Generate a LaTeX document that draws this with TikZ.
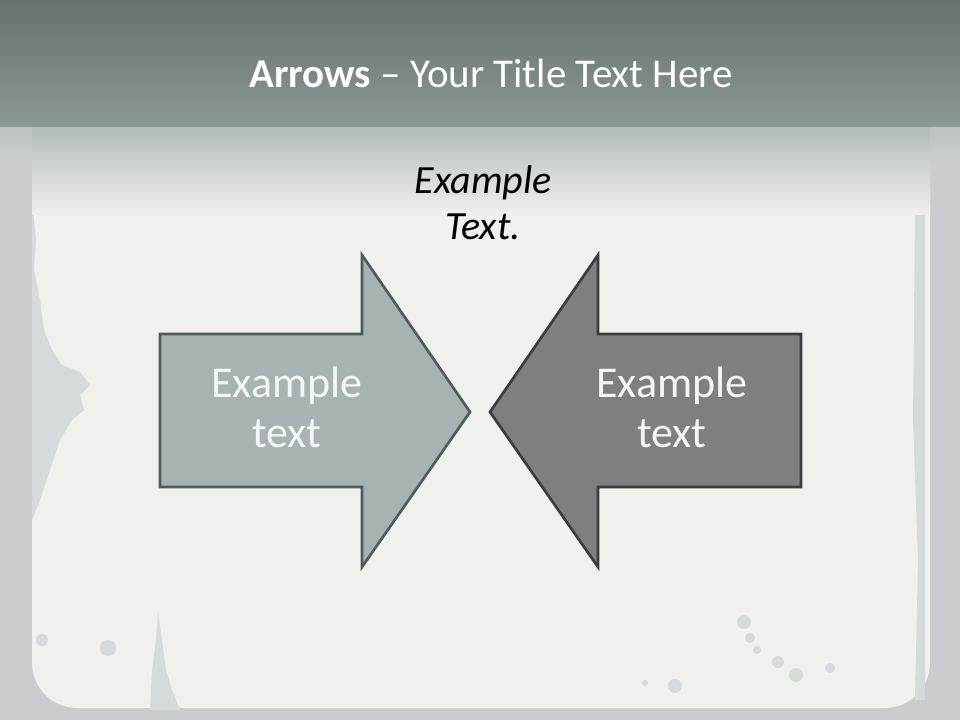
\documentclass[tikz,border=0pt]{standalone}
\usepackage{fontspec}
\setmainfont{Carlito}
\begin{document}
\begin{tikzpicture}[x=0.75pt,y=-0.75pt,
  arrowR/.style={fill=arrowlight,draw=outlineR,line width=2pt,line join=miter},
  arrowL/.style={fill=arrowdark,draw=outlineL,line width=2pt,line join=miter},
  armtext/.style={text=textwhite,align=center,inner sep=0pt,font=\fontsize{33}{37.5}\selectfont},
  blob/.style={fill=grunge,draw=none}]
\definecolor{arrowlight}{HTML}{A7B3B2}
\definecolor{arrowdark}{HTML}{7F7F7F}
\definecolor{outlineR}{HTML}{505B5A}
\definecolor{outlineL}{HTML}{3C3C3C}
\definecolor{textwhite}{HTML}{F4F6F4}
\definecolor{frame}{HTML}{C9CDCD}
\definecolor{paper}{HTML}{EFF1ED}
\definecolor{grunge}{HTML}{D5DADA}
\definecolor{bandtop}{HTML}{66706F}
\definecolor{bandbot}{HTML}{8B9998}
\definecolor{fadetop}{HTML}{B3BCBB}
\useasboundingbox (0,0) rectangle (960,720);
% frame and paper
\fill[frame] (0,0) rectangle (960,720);
\fill[paper] (32,100) [rounded corners=34] -- (32,708) -- (930,708) [sharp corners]-- (930,100) -- cycle;
% grunge on left side
\fill[grunge] (32,200) -- (36,240) -- (34,270) -- (40,300) -- (44,330) -- (52,350) -- (62,365) -- (80,372) -- (90,385) -- (80,395) -- (84,410) -- (72,420) -- (60,440) -- (50,470) -- (40,500) -- (32,520) -- cycle;
\fill[grunge] (150,710) -- (152,670) -- (156,640) -- (158,612) -- (162,640) -- (166,670) -- (172,690) -- (180,710) -- cycle;
\fill[grunge] (915,215) -- (925,215) -- (925,700) -- (915,700) -- (918,560) -- (913,420) -- cycle;
\fill[blob] (108,648) circle (8);
\fill[blob] (42,640) circle (6);
\fill[blob] (744,622) circle (7);
\fill[blob] (750,638) circle (5);
\fill[blob] (757,650) circle (4);
\fill[blob] (778,662) circle (6);
\fill[blob] (675,686) circle (7);
\fill[blob] (796,675) circle (7);
\fill[blob] (830,668) circle (5);
\fill[blob] (645,683) circle (3);
% title band and fade
\shade[top color=bandtop,bottom color=bandbot] (0,0) rectangle (960,128);
\shade[top color=fadetop,bottom color=paper] (32,128) rectangle (930,215);
\shade[top color=frame!80!bandbot,bottom color=frame] (0,128) rectangle (32,160);
\shade[top color=frame!80!bandbot,bottom color=frame] (930,128) rectangle (960,160);
% title
\node[anchor=base,text=white,inner sep=0pt,font=\fontsize{30.7}{36}\selectfont] (title) at (491,88)
  {\textbf{Arrows} – Your Title Text Here};
% top text
\node[anchor=base,align=center,inner sep=0pt,font=\fontsize{30}{35}\selectfont\itshape] (top) at (483,240)
  {Example\\Text.};
% arrows
\draw[arrowR] (160,334) -- (362,334) -- (362,255) -- (470,412) -- (362,567) -- (362,487) -- (160,487) -- cycle;
\draw[arrowL] (801,334) -- (598,334) -- (598,255) -- (490,412) -- (598,567) -- (598,487) -- (801,487) -- cycle;
\node[armtext,anchor=base] (rtext) at (287,447) {Example\\text};
\node[armtext,anchor=base] (ltext) at (672,447) {Example\\text};
\end{tikzpicture}
\end{document}
